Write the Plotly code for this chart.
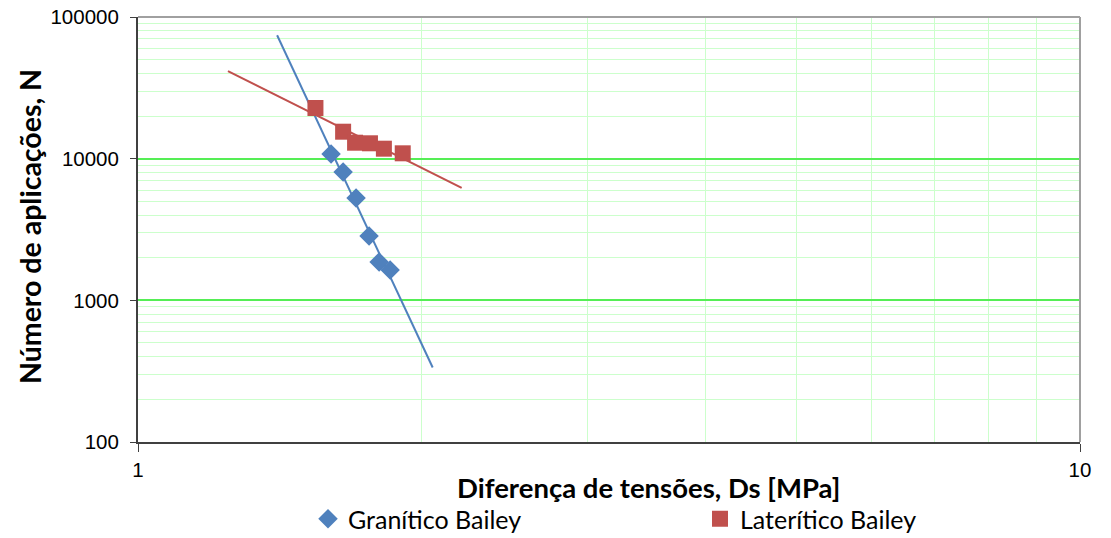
import numpy as np
import plotly.graph_objects as go

# Data
granitico_x = [1.603, 1.651, 1.704, 1.759, 1.803, 1.852]
granitico_y = [10790, 8050, 5280, 2845, 1865, 1638]
lateritico_x = [1.543, 1.651, 1.700, 1.763, 1.824, 1.910]
lateritico_y = [22790, 15500, 12960, 12840, 11760, 10910]
# extent of the power-law trend lines (x range)
granitico_trend_x = [1.405, 2.055]
lateritico_trend_x = [1.246, 2.206]

x_tick_vals = [1, 10]
y_tick_vals = [100, 1000, 10000, 100000]

BLUE = "#4F81BD"
RED = "#C0504D"


def power_fit(xs, ys, xr):
    b, a = np.polyfit(np.log10(xs), np.log10(ys), 1)
    xr = np.array(xr, dtype=float)
    return xr, 10 ** (a + b * np.log10(xr))


fig = go.Figure()

gx, gy = power_fit(granitico_x, granitico_y, granitico_trend_x)
lx, ly = power_fit(lateritico_x, lateritico_y, lateritico_trend_x)

fig.add_trace(go.Scatter(x=gx, y=gy, mode="lines", line=dict(color=BLUE, width=2),
                         showlegend=False, hoverinfo="skip"))
fig.add_trace(go.Scatter(x=lx, y=ly, mode="lines", line=dict(color=RED, width=2),
                         showlegend=False, hoverinfo="skip"))
fig.add_trace(go.Scatter(x=granitico_x, y=granitico_y, mode="markers", name="Granítico Bailey",
                         marker=dict(symbol="diamond", size=15, color=BLUE), legend="legend"))
fig.add_trace(go.Scatter(x=lateritico_x, y=lateritico_y, mode="markers", name="Laterítico Bailey",
                         marker=dict(symbol="square", size=16, color=RED), legend="legend2"))

tick_font = dict(family="Liberation Sans, Arial, sans-serif", size=20.5, color="#000000")

fig.update_xaxes(
    type="log", range=[0, 1],
    tickvals=x_tick_vals, ticktext=[str(v) for v in x_tick_vals],
    showline=True, linecolor="#404040", linewidth=2,
    ticks="outside", ticklen=8, tickcolor="#404040", tickwidth=1,
    tickfont=tick_font, ticklabeloverflow="allow",
    showgrid=True, gridcolor="#ccffcc", gridwidth=1,
    minor=dict(showgrid=True, gridcolor="#ccffcc", gridwidth=1, dtick="D1", ticks=""),
    zeroline=False, automargin=False,
)
fig.update_yaxes(
    type="log", range=[2, 5],
    tickvals=y_tick_vals, ticktext=[str(v) for v in y_tick_vals],
    showline=True, linecolor="#404040", linewidth=2,
    ticks="outside", ticklen=6, tickcolor="#404040", tickwidth=1,
    tickfont=tick_font, ticklabeloverflow="allow", ticklabelstandoff=7,
    showgrid=True, gridcolor="#55ee55", gridwidth=2,
    minor=dict(showgrid=True, gridcolor="#ccffcc", gridwidth=1, dtick="D1", ticks=""),
    zeroline=False, automargin=False,
)

# top and right borders of the plot area
fig.add_shape(type="line", xref="paper", yref="paper", x0=0, x1=1, y0=1, y1=1,
              line=dict(color="#a0a0a0", width=2))
fig.add_shape(type="line", xref="paper", yref="paper", x0=1, x1=1, y0=0, y1=1,
              line=dict(color="#a0a0a0", width=2))

# positions below are expressed relative to the plot area (942 x 425 px)
fig.add_annotation(text="<b>Diferença de tensões, Ds [MPa]</b>", xref="paper", yref="paper",
                   x=(648 - 138) / 942, y=(442 - 487) / 425, xanchor="center", yanchor="middle",
                   showarrow=False,
                   font=dict(family="Lato, Liberation Sans, sans-serif", size=27.5, color="#000000"))
fig.add_annotation(text="<b>Número de aplicações, N</b>", xref="paper", yref="paper",
                   x=(30 - 138) / 942, y=(442 - 227) / 425, xanchor="center", yanchor="middle",
                   textangle=-90, showarrow=False,
                   font=dict(family="Lato, Liberation Sans, sans-serif", size=28.5, color="#000000"))

legend_font = dict(family="Lato, Liberation Sans, sans-serif", size=25, color="#000000")
fig.update_layout(
    # page body has an 8px margin: figure is sized so the plot lands where the reference has it
    width=1103, height=530,
    margin=dict(l=130, r=31, t=9, b=96, autoexpand=False),
    paper_bgcolor="white", plot_bgcolor="white",
    legend=dict(x=(308 - 138) / 942, xanchor="left", y=(442 - 519) / 425, yanchor="middle",
                font=legend_font, bgcolor="rgba(0,0,0,0)"),
    legend2=dict(x=(700 - 138) / 942, xanchor="left", y=(442 - 519) / 425, yanchor="middle",
                 font=legend_font, bgcolor="rgba(0,0,0,0)"),
    showlegend=True,
)

fig.write_html("out.html")
